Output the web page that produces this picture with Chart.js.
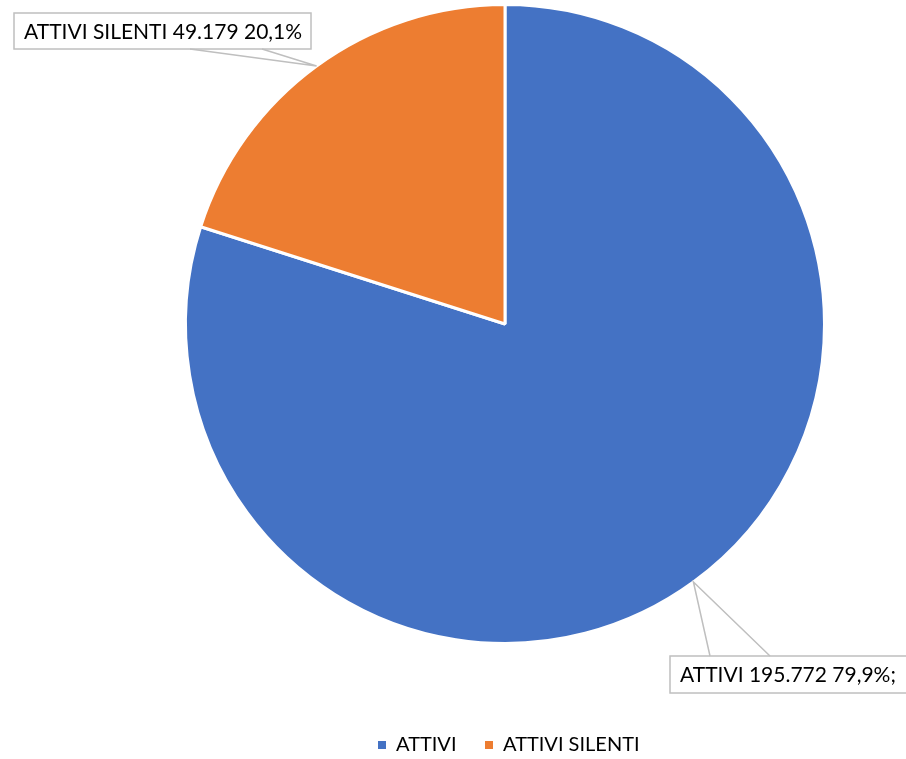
<!DOCTYPE html>
<html>
<head>
<meta charset="utf-8">
<script src="https://cdn.jsdelivr.net/npm/chart.js@4/dist/chart.umd.min.js"></script>
<style>
  html, body { margin: 0; padding: 0; background: #fff; }
  #wrap { width: 906px; height: 759px; position: relative; }
</style>
</head>
<body>
<div id="wrap"><canvas id="myChart" width="906" height="759"></canvas></div>
<script>
var categories = ['ATTIVI', 'ATTIVI SILENTI'];
var values = [195772, 49179];
var valueLabels = ['195.772', '49.179'];
var percentLabels = ['79,9%;', '20,1%'];
var colors = ['#4472C4', '#ED7D31'];

var FONT = 'Lato, "Open Sans", sans-serif';

// callout boxes: x, y, w, h and where the pointer leaves the box
var boxes = [
    { x: 670, y: 656, w: 250, h: 37, side: 'top', p1: 40, p2: 100 },
    { x: 14, y: 13, w: 297, h: 36, side: 'bottom', p1: 176, p2: 248 }
];

var calloutPlugin = {
    id: 'callouts',
    afterDraw: function (chart) {
        var ctx = chart.ctx;
        var meta = chart.getDatasetMeta(0);
        ctx.save();
        meta.data.forEach(function (arc, i) {
            var p = arc.getProps(['x', 'y', 'startAngle', 'endAngle', 'outerRadius'], true);
            var mid = (p.startAngle + p.endAngle) / 2;
            var ax = p.x + Math.cos(mid) * p.outerRadius;
            var ay = p.y + Math.sin(mid) * p.outerRadius;
            var b = boxes[i];
            var by = b.side === 'top' ? b.y : b.y + b.h;

            ctx.strokeStyle = '#BFBFBF';
            ctx.lineWidth = 1.5;
            ctx.fillStyle = '#fff';
            ctx.fillRect(b.x, b.y, b.w, b.h);
            ctx.strokeRect(b.x, b.y, b.w, b.h);

            ctx.beginPath();
            ctx.moveTo(b.x + b.p1, by);
            ctx.lineTo(ax, ay);
            ctx.lineTo(b.x + b.p2, by);
            ctx.stroke();

            var txt = categories[i] + ' ' + valueLabels[i] + ' ' + percentLabels[i];
            ctx.fillStyle = '#000';
            ctx.font = '21px ' + FONT;
            ctx.textBaseline = 'middle';
            ctx.textAlign = 'left';
            ctx.fillText(txt, b.x + 10, b.y + b.h / 2 + 1);
        });

        // legend
        var lx = [378, 485];
        var ly = 745;
        ctx.font = '20px ' + FONT;
        ctx.textBaseline = 'middle';
        categories.forEach(function (c, i) {
            ctx.fillStyle = colors[i];
            ctx.fillRect(lx[i], ly - 4, 8, 8);
            ctx.fillStyle = '#000';
            ctx.fillText(c, lx[i] + 18, ly);
        });
        ctx.restore();
    }
};

var ctx = document.getElementById('myChart').getContext('2d');
var myPieChart = new Chart(ctx, {
    type: 'pie',
    data: {
        labels: categories,
        datasets: [{
            data: values,
            backgroundColor: colors,
            borderColor: '#fff',
            borderWidth: 3
        }]
    },
    options: {
        responsive: false,
        animation: false,
        layout: { padding: { left: 184, right: 80, top: 3, bottom: 114 } },
        plugins: {
            legend: { display: false },
            tooltip: { enabled: false }
        }
    },
    plugins: [calloutPlugin]
});
</script>
</body>
</html>
